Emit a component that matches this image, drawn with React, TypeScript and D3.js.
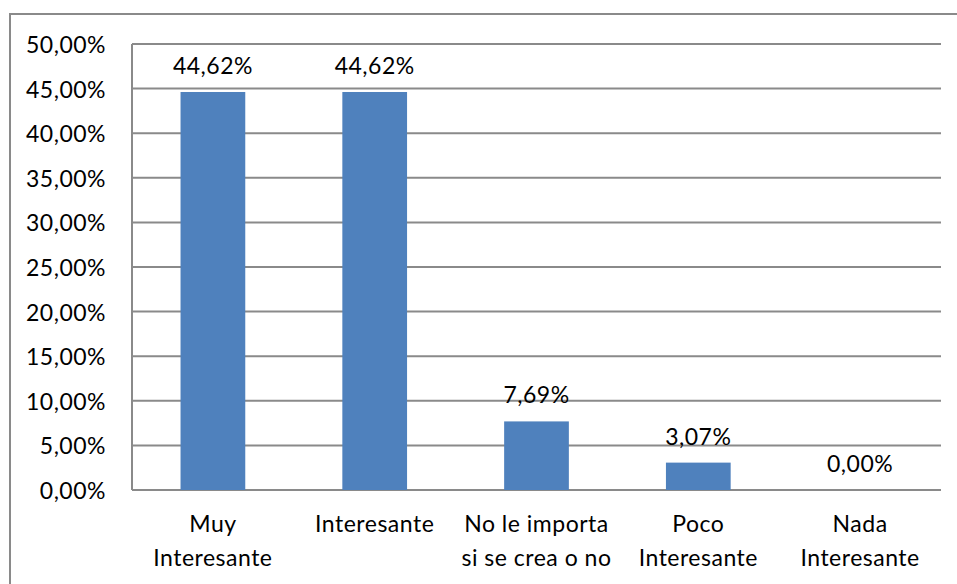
import React from "react";
import * as d3 from "d3";

const categories: string[][] = [
  ["Muy", "Interesante"],
  ["Interesante"],
  ["No le importa", "si se crea o no"],
  ["Poco", "Interesante"],
  ["Nada", "Interesante"],
];
const values: number[] = [44.62, 44.62, 7.69, 3.07, 0.0];
const yTicks: number[] = [0, 5, 10, 15, 20, 25, 30, 35, 40, 45, 50];

const W = 957;
const H = 584;
const left = 132;
const right = 941;
const top = 44;
const bottom = 490;
const FONT = "Lato, 'Open Sans', sans-serif";
const GRID = "#8a8a8a";
const BAR = "#4F81BD";
const LS = 0.5;

const fmt = (v: number) => v.toFixed(2).replace(".", ",") + "%";

export default function App() {
  const x = d3
    .scaleBand<number>()
    .domain(values.map((_, i) => i))
    .range([left, right])
    .paddingInner(0.6)
    .paddingOuter(0.3);
  const band = d3.scaleBand<number>().domain(values.map((_, i) => i)).range([left, right]);
  const y = d3.scaleLinear().domain([0, 50]).range([bottom, top]);

  return (
    <svg
      width={W}
      height={H}
      style={{ position: "absolute", left: 0, top: 0, background: "#fff" }}
      fontFamily={FONT}
    >
      <rect x={10} y={14} width={980} height={600} fill="#fff" stroke={GRID} strokeWidth={2} />
      {yTicks.map((t) => (
        <g key={t}>
          <line x1={left} x2={right} y1={y(t)} y2={y(t)} stroke={GRID} strokeWidth={2} />
          <text
            x={left - 26}
            y={y(t)}
            textAnchor="end"
            dominantBaseline="central"
            fontSize={23}
            letterSpacing={LS}
            fill="#000"
          >
            {fmt(t)}
          </text>
        </g>
      ))}
      <line x1={left} x2={left} y1={top} y2={bottom} stroke={GRID} strokeWidth={2} />
      {values.map((v, i) => (
        <g key={i}>
          {v > 0 && (
            <rect
              x={x(i)!}
              y={y(v)}
              width={x.bandwidth()}
              height={y(0) - y(v)}
              fill={BAR}
            />
          )}
          <text
            x={band(i)! + band.bandwidth() / 2}
            y={y(v) - 18}
            textAnchor="middle"
            fontSize={23}
            letterSpacing={LS}
            fill="#000"
          >
            {fmt(v)}
          </text>
          {categories[i].map((line, j) => (
            <text
              key={j}
              x={band(i)! + band.bandwidth() / 2}
              y={532 + j * 34}
              textAnchor="middle"
              fontSize={23}
              letterSpacing={LS}
              fill="#000"
            >
              {line}
            </text>
          ))}
        </g>
      ))}
    </svg>
  );
}
